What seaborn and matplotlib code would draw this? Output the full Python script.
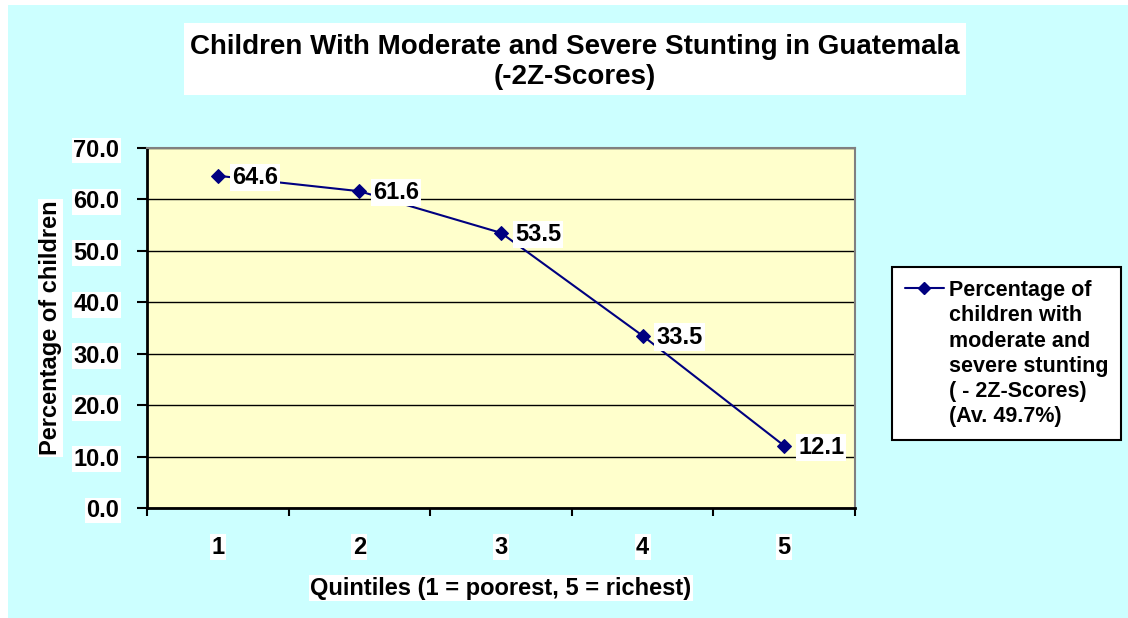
"""Children with moderate and severe stunting in Guatemala, by quintile."""

import matplotlib.pyplot as plt
import pandas as pd
import seaborn as sns
from matplotlib.lines import Line2D
from matplotlib.patches import Rectangle

quintiles = [1, 2, 3, 4, 5]
stunting = [64.6, 61.6, 53.5, 33.5, 12.1]
y_ticks = [0, 10, 20, 30, 40, 50, 60, 70]

title = "Children With Moderate and Severe Stunting in Guatemala\n(-2Z-Scores)"
x_label = "Quintiles (1 = poorest, 5 = richest)"
y_label = "Percentage of children"
legend_lines = ["Percentage of", "children with", "moderate and",
                "severe stunting", "( - 2Z-Scores)", "(Av. 49.7%)"]

CYAN = "#CCFFFF"
YELLOW = "#FFFFCC"
NAVY = "#000080"

sns.set_theme(style="white")
plt.rcParams["font.family"] = ["Liberation Sans", "DejaVu Sans"]
plt.rcParams["font.weight"] = "bold"
for key in ["text.color", "axes.labelcolor", "xtick.color", "ytick.color"]:
    plt.rcParams[key] = "black"

df = pd.DataFrame({"Quintil": quintiles, "Stunting": stunting})

fig = plt.figure(figsize=(11.28, 6.18), dpi=100, facecolor="white")
# fondo cian con un pequeño margen blanco arriba y a la izquierda
fig.patches.append(Rectangle((8 / 1128, 0), 1, 1 - 5 / 618, transform=fig.transFigure,
                             facecolor=CYAN, edgecolor="none", zorder=-10))

ax = fig.add_axes([147 / 1128, 1 - 508 / 618, 708 / 1128, 360 / 618])
ax.set_facecolor(YELLOW)

sns.lineplot(data=df, x="Quintil", y="Stunting", ax=ax, color=NAVY, marker="D",
             markersize=7, markeredgecolor=NAVY, linewidth=1.5, legend=False,
             zorder=3)

for q, v in zip(quintiles, stunting):
    ax.annotate(f"{v:.1f}", (q, v), xytext=(10, -1), textcoords="offset points",
                ha="left", va="center", fontsize=17, fontweight="bold",
                bbox=dict(facecolor="white", edgecolor="none", pad=1.5), zorder=4)

ax.set_xlim(0.5, 5.5)
ax.set_ylim(0, 70)
ax.set_yticks(y_ticks)
ax.set_yticklabels([f"{t:.1f}" for t in y_ticks], fontsize=17, fontweight="bold")
for lbl in ax.get_yticklabels():
    lbl.set_bbox(dict(facecolor="white", edgecolor="none", pad=1))
ax.yaxis.grid(True, color="black", linewidth=1)
ax.set_axisbelow(True)

# marcas de eje en los bordes de cada categoría, etiquetas en el centro
ax.set_xticks([0.5, 1.5, 2.5, 3.5, 4.5, 5.5])
ax.set_xticklabels([])
ax.set_xticks(quintiles, minor=True)
ax.set_xticklabels([str(q) for q in quintiles], minor=True, fontsize=17,
                   fontweight="bold")
for lbl in ax.get_xticklabels(minor=True):
    lbl.set_bbox(dict(facecolor="white", edgecolor="none", pad=1))
ax.tick_params(axis="x", which="major", direction="out", length=6, width=1.5,
               bottom=True, color="black")
ax.tick_params(axis="x", which="minor", length=0, pad=20)
ax.tick_params(axis="y", direction="out", length=7, width=1.5, left=True,
               color="black", pad=13)

for side in ["left", "bottom"]:
    ax.spines[side].set_color("black")
    ax.spines[side].set_linewidth(2)
for side in ["top", "right"]:
    ax.spines[side].set_color("#808080")
    ax.spines[side].set_linewidth(1.5)

ax.set_xlabel(x_label, fontsize=17, fontweight="bold", labelpad=13,
              bbox=dict(facecolor="white", edgecolor="none", pad=1))
ax.set_ylabel(y_label, fontsize=17, fontweight="bold", labelpad=8,
              bbox=dict(facecolor="white", edgecolor="none", pad=1))

# recuadro blanco del título
fig.patches.append(Rectangle((184 / 1128, 1 - 95 / 618), 782 / 1128, 72 / 618,
                             transform=fig.transFigure, facecolor="white",
                             edgecolor="none", zorder=-5))
fig.text(575 / 1128, 1 - 62 / 618, title, ha="center", va="center", fontsize=20,
         fontweight="bold", linespacing=1.25)

# leyenda: la marca va junto a la primera línea del texto
handles = [Line2D([], [], color=NAVY, marker="D", markersize=6, linewidth=1.5)]
handles += [Line2D([], [], linestyle="none") for _ in legend_lines[1:]]
leg = fig.legend(handles, legend_lines, loc="upper left",
                 bbox_to_anchor=(892 / 1128, 1 - 267 / 618), borderaxespad=0,
                 frameon=True, fancybox=False, fontsize=15.5, handlelength=1.8,
                 borderpad=0.6, handletextpad=0.25, labelspacing=0.2)
leg.get_frame().set_edgecolor("black")
leg.get_frame().set_linewidth(1.5)
leg.get_frame().set_facecolor("white")
leg.get_frame().set_alpha(1)
for txt in leg.get_texts():
    txt.set_fontweight("bold")

fig.savefig("out.png", dpi=100, facecolor=fig.get_facecolor())
